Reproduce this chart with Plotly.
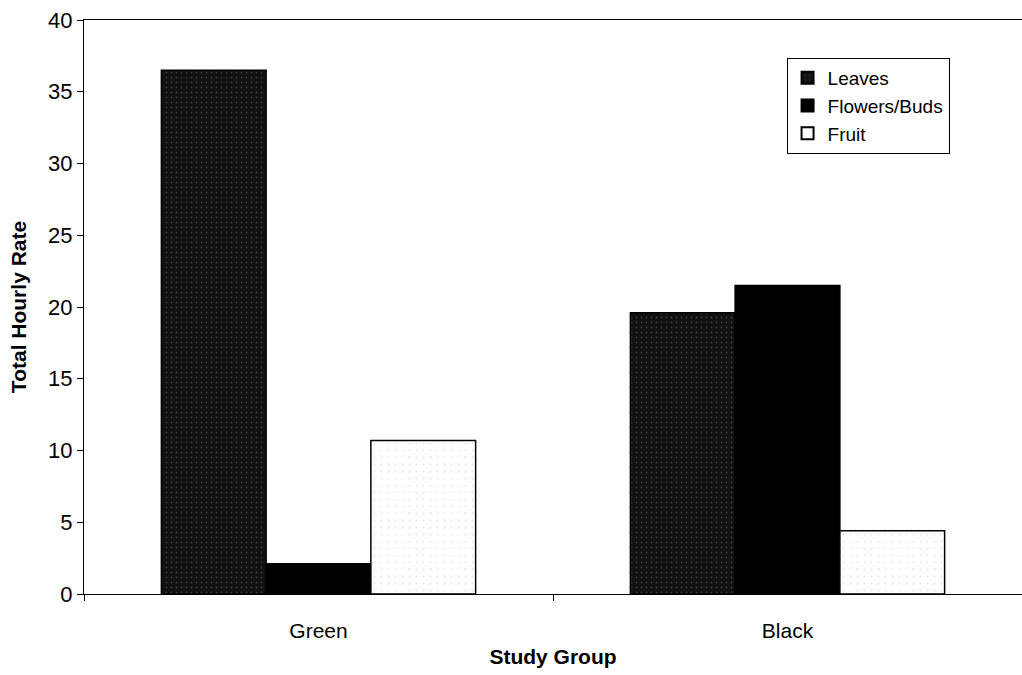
import plotly.graph_objects as go

groups = ["Green", "Black"]
leaves = [36.5, 19.6]
flowers = [2.1, 21.5]
fruit = [10.7, 4.4]

FONT = "Liberation Sans, Arial, sans-serif"

fig = go.Figure()
fig.add_trace(go.Bar(
    name="Leaves", x=groups, y=leaves,
    marker=dict(color="#111111", line=dict(color="black", width=1.5),
                pattern=dict(shape=".", fgcolor="#666666", bgcolor="#111111", size=5, solidity=0.1)),
))
fig.add_trace(go.Bar(
    name="Flowers/Buds", x=groups, y=flowers,
    marker=dict(color="black", line=dict(color="black", width=1.5)),
))
fig.add_trace(go.Bar(
    name="Fruit", x=groups, y=fruit,
    marker=dict(color="white", line=dict(color="black", width=1.5),
                pattern=dict(shape=".", fgcolor="#cccccc", bgcolor="white", size=7, solidity=0.06)),
))

fig.update_layout(
    width=1022, height=675,
    margin=dict(l=84, r=0, t=20, b=81),
    paper_bgcolor="white", plot_bgcolor="white",
    barmode="group", bargap=0.33, bargroupgap=0,
    font=dict(family=FONT, color="black", size=21),
    showlegend=True,
    legend=dict(x=0.749, y=0.934, xanchor="left", yanchor="top",
                bgcolor="white", bordercolor="black", borderwidth=1,
                font=dict(size=19, family=FONT), itemsizing="constant",
                itemwidth=30, tracegroupgap=0),
    xaxis=dict(
        showline=True, linecolor="black", linewidth=1, mirror=True,
        ticks="outside", tickson="boundaries", ticklen=6, tickcolor="black",
        showgrid=False, automargin=False,
        ticklabelstandoff=18,
        title=dict(text="<b>Study Group</b>", font=dict(size=21, family=FONT), standoff=8),
        tickfont=dict(size=21),
    ),
    yaxis=dict(
        range=[0, 40], dtick=5, showline=True, linecolor="black", linewidth=1,
        ticks="outside", ticklen=6, tickcolor="black", showgrid=False, zeroline=False,
        automargin=False,
        title=dict(text="<b>Total Hourly Rate</b>", font=dict(size=21, family=FONT), standoff=15),
        tickfont=dict(size=22),
    ),
)

fig.write_html("out.html")
